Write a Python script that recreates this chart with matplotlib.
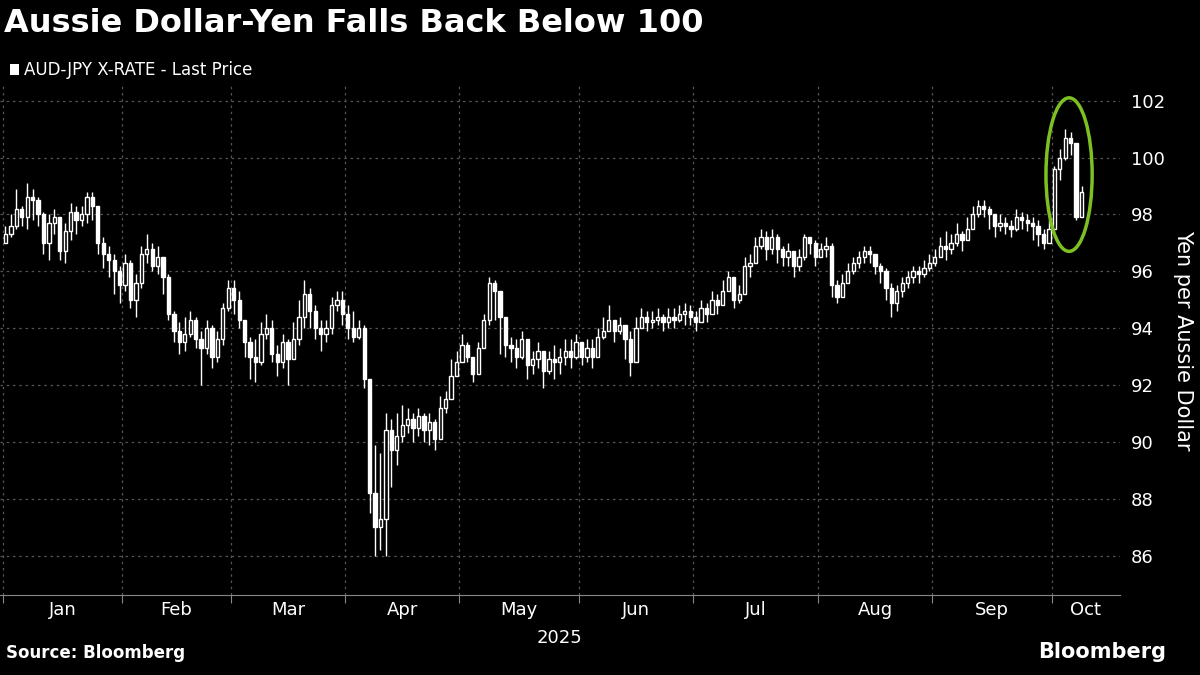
import numpy as np
import matplotlib.pyplot as plt
from matplotlib.patches import Ellipse, Rectangle

months = ["Jan", "Feb", "Mar", "Apr", "May", "Jun", "Jul", "Aug", "Sep", "Oct"]

jan_close = [97.3, 97.6, 98.2, 97.9, 98.6, 98.5, 98.0, 97.0, 97.7, 97.9, 96.7, 97.4, 98.1, 97.8, 98.0, 98.6, 98.3, 97.0, 96.6, 96.4, 96.0, 95.5]
jan_high = [97.6, 98.0, 98.9, 98.3, 99.1, 98.9, 98.6, 98.1, 98.0, 98.2, 97.4, 97.7, 98.4, 98.3, 98.3, 98.8, 98.8, 98.0, 97.2, 96.9, 96.6, 96.2]
jan_low = [97.0, 97.2, 97.5, 97.6, 97.5, 97.8, 97.6, 96.6, 96.4, 97.3, 96.4, 96.3, 97.1, 97.3, 97.6, 97.7, 97.8, 96.6, 96.1, 95.8, 95.2, 94.9]

feb_close = [96.3, 95.0, 95.6, 96.6, 96.8, 96.2, 96.5, 95.8, 94.5, 93.9, 93.5, 93.8, 94.3, 93.6, 93.3, 94.0, 93.0, 93.6, 94.7, 95.4]
feb_high = [96.6, 96.4, 95.9, 96.9, 97.3, 97.0, 96.9, 96.4, 95.9, 94.6, 94.2, 94.4, 94.6, 94.4, 93.9, 94.3, 94.1, 93.9, 94.9, 95.7]
feb_low = [95.3, 94.7, 94.4, 95.4, 96.3, 96.0, 95.9, 95.2, 94.3, 93.5, 93.1, 93.2, 93.7, 93.3, 92.0, 93.1, 92.6, 92.8, 93.4, 94.6]

mar_close = [95.0, 94.3, 93.5, 93.0, 92.8, 93.8, 94.0, 93.1, 92.8, 93.5, 92.9, 93.6, 94.4, 95.2, 94.6, 94.0, 93.8, 94.0, 94.8, 95.0, 94.5]
mar_high = [95.7, 95.3, 94.3, 93.7, 93.6, 94.2, 94.5, 94.3, 93.4, 93.8, 93.6, 94.2, 95.0, 95.7, 95.4, 94.8, 94.3, 94.3, 95.1, 95.3, 95.3]
mar_low = [94.5, 94.0, 93.0, 92.2, 92.1, 92.7, 93.6, 92.8, 92.3, 92.6, 92.0, 92.9, 93.4, 94.0, 94.0, 93.6, 93.2, 93.5, 93.8, 94.6, 94.1]

apr_close = [94.0, 93.7, 94.0, 92.2, 88.2, 87.0, 87.3, 90.4, 89.7, 90.2, 90.6, 90.8, 90.5, 90.9, 90.4, 90.7, 90.1, 91.2, 91.5, 92.3, 92.8]
apr_high = [94.8, 94.6, 94.3, 94.1, 92.1, 89.9, 89.6, 91.0, 90.8, 91.0, 91.3, 91.2, 91.0, 91.2, 91.0, 91.0, 90.8, 91.6, 91.8, 92.9, 93.2]
apr_low = [93.6, 93.5, 93.6, 91.9, 87.5, 86.0, 86.2, 86.0, 88.4, 89.2, 90.0, 90.3, 90.0, 90.2, 90.0, 89.9, 89.7, 90.6, 91.0, 91.8, 92.4]

may_close = [93.4, 93.0, 92.4, 93.3, 94.3, 95.6, 95.3, 94.4, 93.4, 93.3, 93.0, 93.6, 92.7, 92.9, 93.2, 92.5, 92.9, 92.8, 93.0, 93.2, 93.0, 93.5]
may_high = [93.8, 93.5, 93.0, 93.5, 94.5, 95.8, 95.7, 94.9, 94.1, 93.7, 93.6, 93.9, 93.3, 93.2, 93.5, 93.1, 93.2, 93.4, 93.3, 93.6, 93.6, 93.8]
may_low = [92.8, 92.8, 92.1, 92.4, 93.3, 94.1, 94.3, 93.1, 93.0, 92.8, 92.6, 92.9, 92.2, 92.4, 92.6, 91.9, 92.4, 92.2, 92.4, 92.7, 92.6, 92.9]

jun_close = [93.0, 93.3, 93.0, 93.7, 93.9, 94.3, 93.9, 94.1, 93.6, 92.8, 94.0, 94.4, 94.2, 94.3, 94.4, 94.2, 94.4, 94.3, 94.5, 94.6, 94.4]
jun_high = [93.5, 93.6, 93.6, 94.0, 94.4, 94.8, 94.2, 94.4, 94.1, 93.9, 94.4, 94.7, 94.6, 94.6, 94.7, 94.5, 94.7, 94.7, 94.8, 94.9, 94.8]
jun_low = [92.7, 92.8, 92.6, 93.2, 93.6, 93.9, 93.5, 93.8, 92.9, 92.3, 92.9, 94.0, 93.9, 94.0, 94.1, 93.9, 94.0, 94.0, 94.2, 94.1, 94.1]

jul_close = [94.2, 94.7, 94.5, 95.0, 94.8, 95.3, 95.8, 95.0, 95.2, 96.2, 96.3, 96.9, 97.2, 96.8, 97.2, 96.8, 96.5, 96.7, 96.2, 96.5, 97.2, 97.0, 96.5]
jul_high = [94.6, 95.0, 94.9, 95.3, 95.2, 95.7, 96.0, 95.5, 95.5, 96.5, 96.6, 97.2, 97.5, 97.4, 97.5, 97.3, 96.9, 97.0, 96.6, 96.8, 97.3, 97.2, 97.1]
jul_low = [93.9, 94.4, 94.2, 94.6, 94.5, 94.9, 95.3, 94.7, 94.9, 95.5, 95.8, 96.3, 96.8, 96.4, 96.6, 96.3, 96.2, 96.2, 95.8, 96.0, 96.4, 96.6, 96.2]

aug_close = [96.8, 96.9, 95.5, 95.1, 95.6, 96.0, 96.3, 96.5, 96.7, 96.6, 96.2, 96.0, 95.4, 94.9, 95.3, 95.6, 95.8, 96.0, 95.9, 96.1, 96.3]
aug_high = [97.0, 97.2, 97.0, 95.7, 95.9, 96.3, 96.5, 96.7, 96.9, 96.9, 96.6, 96.3, 96.1, 95.6, 95.5, 95.8, 96.0, 96.2, 96.2, 96.4, 96.6]
aug_low = [96.5, 96.5, 95.1, 94.9, 95.2, 95.6, 95.9, 96.1, 96.3, 96.3, 95.9, 95.6, 95.0, 94.4, 94.6, 95.1, 95.4, 95.6, 95.6, 95.8, 96.0]

sep_close = [96.5, 96.9, 96.8, 97.0, 97.3, 97.1, 97.5, 98.0, 98.3, 98.2, 98.0, 97.6, 97.7, 97.6, 97.5, 97.9, 97.8, 97.7, 97.6, 97.3, 97.0, 97.5]
sep_high = [96.8, 97.2, 97.4, 97.3, 97.7, 97.4, 97.9, 98.3, 98.5, 98.5, 98.3, 97.9, 98.0, 97.9, 97.8, 98.2, 98.1, 98.0, 97.9, 97.8, 97.5, 97.8]
sep_low = [96.2, 96.5, 96.4, 96.6, 96.9, 96.7, 97.1, 97.6, 97.9, 97.9, 97.5, 97.2, 97.4, 97.3, 97.2, 97.4, 97.5, 97.4, 97.1, 96.9, 96.8, 97.0]

oct_close = [99.6, 100.0, 100.7, 100.5, 97.9, 98.8]
oct_high = [99.7, 100.3, 101.0, 100.9, 100.5, 99.0]
oct_low = [97.5, 99.2, 99.9, 100.1, 97.8, 98.1]

first_open = 97.0

closes = [jan_close, feb_close, mar_close, apr_close, may_close, jun_close, jul_close, aug_close, sep_close, oct_close]
highs = [jan_high, feb_high, mar_high, apr_high, may_high, jun_high, jul_high, aug_high, sep_high, oct_high]
lows = [jan_low, feb_low, mar_low, apr_low, may_low, jun_low, jul_low, aug_low, sep_low, oct_low]

close = np.concatenate(closes)
high = np.concatenate(highs)
low = np.concatenate(lows)
opn = np.concatenate([[first_open], close[:-1]])
n = len(close)
x = np.arange(n)
month_start = np.cumsum([0] + [len(c) for c in closes[:-1]]) - 0.5

fig = plt.figure(figsize=(12, 6.75), dpi=100, facecolor="black")
ax = fig.add_axes([0.0, 0.118, 0.933, 0.756], facecolor="black")

w = 0.6
for i in x:
    ax.vlines(i, low[i], high[i], color="white", lw=1, zorder=2)
    lo, hi = sorted([opn[i], close[i]])
    h = max(hi - lo, 0.08)
    face = "black" if close[i] >= opn[i] else "white"
    ax.add_patch(Rectangle((i - w / 2, lo), w, h, facecolor=face, edgecolor="white", lw=1, zorder=3))

xmax = n + 6
ax.set_xlim(-1, xmax)
ax.set_ylim(84.6, 102.55)

ax.yaxis.tick_right()
ax.set_yticks(np.arange(86, 103, 2))
ax.tick_params(axis="y", colors="white", labelsize=13, length=0, pad=8)
ax.yaxis.set_label_position("right")
ax.set_ylabel("Yen per Aussie Dollar", color="white", fontsize=15, rotation=-90, labelpad=20)

ax.set_xticks(month_start)
ax.set_xticklabels([])
ax.tick_params(axis="x", colors="#888888", length=6, direction="out")
label_pos = list((month_start[:-1] + month_start[1:]) / 2) + [(month_start[-1] + xmax) / 2]
for p, m in zip(label_pos, months):
    ax.text(p, -0.012, m, transform=ax.get_xaxis_transform(), color="white", fontsize=13,
            ha="center", va="top")
ax.text(0.5, -0.065, "2025", transform=ax.transAxes, color="white", fontsize=13, ha="center", va="top")

ax.grid(True, color="#555555", linestyle=(0, (2, 3)), lw=0.9)
for s in ["top", "right", "left"]:
    ax.spines[s].set_visible(False)
ax.spines["bottom"].set_color("#888888")

ell = Ellipse((n - 3.3, 99.4), 8.5, 5.4, fill=False, edgecolor="#7ec022", lw=2.5, zorder=4)
ax.add_patch(ell)

fig.text(0.003, 0.965, "Aussie Dollar-Yen Falls Back Below 100", color="white", fontsize=23,
         fontweight="bold", va="center")
fig.patches.append(Rectangle((0.008, 0.889), 0.008, 0.016, transform=fig.transFigure,
                             facecolor="white", edgecolor="none"))
fig.text(0.02, 0.897, "AUD-JPY X-RATE - Last Price", color="white", fontsize=12, va="center")
fig.text(0.005, 0.02, "Source: Bloomberg", color="white", fontsize=12, fontweight="bold", va="bottom")
fig.text(0.972, 0.02, "Bloomberg", color="white", fontsize=15, fontweight="bold", va="bottom", ha="right")

fig.savefig("out.png", dpi=100, facecolor="black")
